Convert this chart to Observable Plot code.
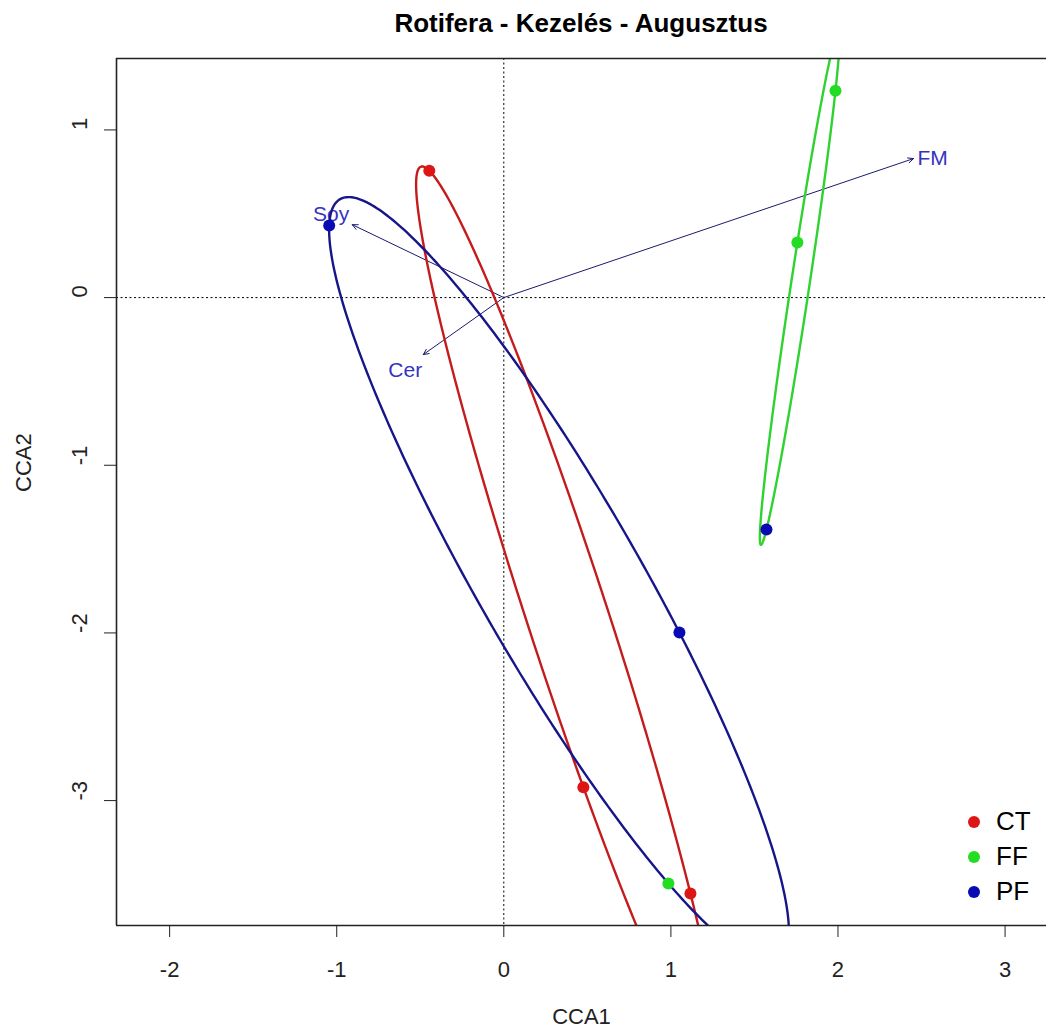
<!DOCTYPE html>
<html><head><meta charset="utf-8">
<script src="https://cdn.jsdelivr.net/npm/d3@7"></script>
<script src="https://cdn.jsdelivr.net/npm/@observablehq/plot@0.6"></script>
<style>
body{margin:0;background:#fff;font-family:"Liberation Sans",Arial,sans-serif;}
#wrap{position:relative;width:1046px;height:1034px;overflow:hidden;}
#title{height:40px;box-sizing:border-box;padding-top:3px;padding-left:116px;text-align:center;font-weight:bold;font-size:26px;line-height:40px;color:#000;}
#legend{position:absolute;left:962px;top:804px;font-size:26px;color:#000;}
#legend .row{height:35px;display:flex;align-items:center;}
#legend .dot{width:12px;height:12px;border-radius:50%;margin-right:16px;margin-left:6px;}
</style></head><body>
<div id="wrap"><div id="title"></div><div id="chart"></div><div id="legend"></div></div>
<script>
const titleText = "Rotifera - Kezelés - Augusztus";
const groups = ["CT", "FF", "PF"];
const pointColors = ["#dd1515", "#22dd22", "#0a0ab4"];
const ellipseColors = ["#c41c1c", "#2fd22f", "#16168a"];
// site scores (CCA1, CCA2), drawn colour group and ellipse group
const siteX = [-0.446, 0.476, 1.117, 1.985, 1.757, 0.985, -1.045, 1.051, 1.572];
const siteY = [0.757, -2.920, -3.554, 1.234, 0.328, -3.494, 0.430, -1.998, -1.383];
const siteColorGroup = ["CT", "CT", "CT", "FF", "FF", "FF", "PF", "PF", "PF"];
const siteEllipseGroup = ["CT", "CT", "CT", "FF", "FF", "PF", "PF", "PF", "FF"];
// biplot arrows
const arrowNames = ["Soy", "FM", "Cer"];
const arrowX = [-0.907, 2.452, -0.482];
const arrowY = [0.435, 0.829, -0.340];
const labelX = [-1.033, 2.566, -0.590];
const labelY = [0.495, 0.829, -0.435];
const xTicks = [-2, -1, 0, 1, 2, 3];
const yTicks = [1, 0, -1, -2, -3];
const xDomain = [-2.318, 3.248];
const yDomain = [-3.745, 1.426];

document.getElementById("title").textContent = titleText;

const sites = siteX.map((x, i) => ({x, y: siteY[i], col: siteColorGroup[i], ell: siteEllipseGroup[i]}));
const arrows = arrowNames.map((n, i) => ({name: n, x: arrowX[i], y: arrowY[i], lx: labelX[i], ly: labelY[i]}));

// minimum-area ellipse through the three sites of each group (Steiner circumellipse)
const ellipsePts = [];
for (const g of groups) {
  const p = sites.filter(d => d.ell === g);
  const gx = d3.mean(p, d => d.x), gy = d3.mean(p, d => d.y);
  const ax = p[0].x - gx, ay = p[0].y - gy;
  const bx = (p[2].x - p[1].x) / Math.sqrt(3), by = (p[2].y - p[1].y) / Math.sqrt(3);
  for (let k = 0; k <= 360; k++) {
    const t = k * Math.PI / 180;
    ellipsePts.push({g, x: gx + ax * Math.cos(t) + bx * Math.sin(t), y: gy + ay * Math.cos(t) + by * Math.sin(t)});
  }
}

const font = "'Liberation Sans', Arial, sans-serif";
const chart = Plot.plot({
  width: 1046,
  height: 994,
  marginTop: 18,
  marginLeft: 116,
  marginRight: 0,
  marginBottom: 109,
  style: {fontFamily: font, fontSize: "22px", color: "#222", background: "#fff"},
  x: {domain: xDomain, axis: null},
  y: {domain: yDomain, axis: null},
  color: {domain: groups, range: ellipseColors},
  marks: [
    Plot.ruleX([0], {stroke: "#000", strokeWidth: 1, strokeDasharray: "2,2.5"}),
    Plot.ruleY([0], {stroke: "#000", strokeWidth: 1, strokeDasharray: "2,2.5"}),
    Plot.arrow(arrows, {x1: 0, y1: 0, x2: "x", y2: "y", stroke: "#1a1a6e", strokeWidth: 1, headLength: 9, headAngle: 50}),
    Plot.text(arrows, {x: "lx", y: "ly", text: "name", fill: "#3434c0", fontSize: 21}),
    Plot.line(ellipsePts, {x: "x", y: "y", z: "g", stroke: d => d.g, strokeWidth: 2.4, clip: true, curve: "linear"}),
    Plot.dot(sites, {x: "x", y: "y", r: 6, fill: d => pointColors[groups.indexOf(d.col)], stroke: "none", clip: true}),
    // frame (top, left, bottom)
    Plot.ruleY([yDomain[0], yDomain[1]], {stroke: "#222", strokeWidth: 1.6}),
    Plot.ruleX([xDomain[0]], {stroke: "#222", strokeWidth: 1.6}),
    Plot.axisX({ticks: xTicks, tickSize: 12, tickPadding: 24, tickFormat: d => String(d), label: null, fontSize: 22, stroke: "#222"}),
    Plot.axisY({ticks: yTicks, tickSize: 12, tickFormat: () => "", label: null, stroke: "#222"}),
    Plot.text(yTicks, {y: d => d, text: d => String(d), frameAnchor: "left", dx: -37, rotate: -90, fontSize: 22, fill: "#222"}),
    Plot.text(["CCA1"], {text: d => d, frameAnchor: "bottom", dy: 98, fontSize: 22, fill: "#222"}),
    Plot.text(["CCA2"], {text: d => d, frameAnchor: "left", dx: -93, rotate: -90, fontSize: 22, fill: "#222"})
  ]
});
document.getElementById("chart").appendChild(chart);

const legend = document.getElementById("legend");
groups.forEach((g, i) => {
  const row = document.createElement("div");
  row.className = "row";
  row.innerHTML = `<span class="dot" style="background:${pointColors[i]}"></span><span>${g}</span>`;
  legend.appendChild(row);
});
</script>
</body></html>
